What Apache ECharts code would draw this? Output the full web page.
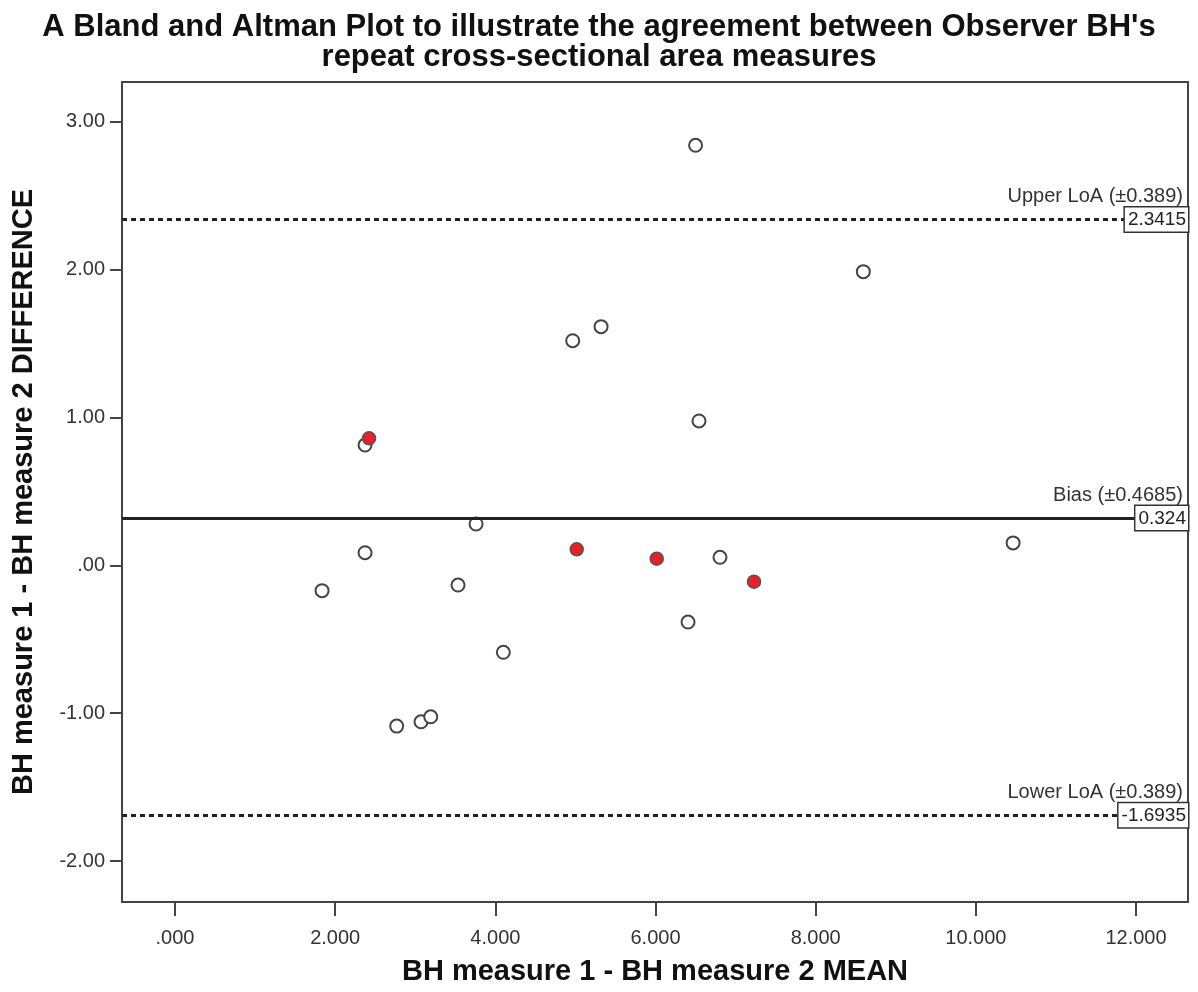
<!DOCTYPE html>
<html>
<head>
<meta charset="utf-8">
<script src="https://cdn.jsdelivr.net/npm/echarts@6/dist/echarts.min.js"></script>
<style>
  html, body { margin: 0; padding: 0; background: #fff; }
  #chart { width: 1198px; height: 992px; }
</style>
</head>
<body>
<div id="chart"></div>
<script>
// Hollow points: [mean, difference]
const hollowPoints = [
  [6.50, 2.842], [8.595, 1.987], [5.32, 1.615], [4.966, 1.520], [6.543, 0.977],
  [2.373, 0.814], [3.759, 0.280], [2.373, 0.086], [10.465, 0.152], [6.805, 0.055],
  [1.836, -0.171], [3.534, -0.133], [6.406, -0.383], [4.10, -0.588],
  [2.768, -1.087], [3.072, -1.058], [3.193, -1.024]
];
// Red highlighted points: [mean, difference]
const redPoints = [
  [2.423, 0.860], [5.016, 0.109], [6.015, 0.045], [7.230, -0.110]
];
const upperLoA = 2.3415;
const bias = 0.324;
const lowerLoA = -1.6935;
const upperCaption = 'Upper LoA (±0.389)';
const biasCaption = 'Bias (±0.4685)';
const lowerCaption = 'Lower LoA (±0.389)';
const xTicks = [0, 2, 4, 6, 8, 10, 12];
const yTicks = [-2, -1, 0, 1, 2, 3];
const xRange = [-0.662, 12.649];
const yRange = [-2.277, 3.27];

const chart = echarts.init(document.getElementById('chart'), null, { renderer: 'canvas' });

function fmt(v, d) {
  let s = Number(v).toFixed(d);
  s = s.replace(/^0\./, '.').replace(/^-0\./, '-.');
  return s;
}

const FONT = 'Liberation Sans, Arial, sans-serif';
const lineColor = '#222';
const boxLabel = {
  position: 'insideEndTop',
  distance: [0, -12],
  color: '#222',
  fontSize: 19,
  lineHeight: 21,
  fontFamily: FONT,
  backgroundColor: '#fff',
  borderColor: '#333',
  borderWidth: 1.5,
  padding: [2, 2, 1, 3]
};
const capLabel = {
  position: 'insideEndTop',
  distance: [5, 13],
  color: '#333',
  fontSize: 20,
  fontFamily: FONT
};

function refLine(val, caption, dashed) {
  const ls = dashed
    ? { color: lineColor, width: 3, type: [5, 4] }
    : { color: lineColor, width: 3, type: 'solid' };
  return [
    { yAxis: val, lineStyle: ls, label: Object.assign({}, capLabel, { formatter: caption }) },
    { yAxis: val, lineStyle: { color: 'rgba(0,0,0,0)', width: 0 }, label: Object.assign({}, boxLabel, { formatter: String(val) }) }
  ];
}

const option = {
  animation: false,
  backgroundColor: '#fff',
  title: {
    text: "A Bland and Altman Plot to illustrate the agreement between Observer BH's\nrepeat cross-sectional area measures",
    left: 'center',
    top: 7,
    textStyle: {
      fontFamily: FONT,
      fontWeight: 'bold',
      fontSize: 31,
      lineHeight: 30,
      color: '#111',
      align: 'center'
    }
  },
  grid: {
    left: 122, right: 10, top: 82, bottom: 90,
    show: true,
    borderColor: '#444',
    borderWidth: 2,
    backgroundColor: '#fff'
  },
  xAxis: {
    type: 'value',
    min: xRange[0],
    max: xRange[1],
    name: 'BH measure 1 - BH measure 2 MEAN',
    nameLocation: 'middle',
    nameGap: 55,
    nameTextStyle: { fontFamily: FONT, fontWeight: 'bold', fontSize: 29, color: '#111' },
    axisLine: { show: true, onZero: false, lineStyle: { color: '#444', width: 2 } },
    axisTick: { show: true, length: 14, customValues: xTicks, lineStyle: { color: '#444', width: 2 } },
    axisLabel: {
      customValues: xTicks,
      margin: 26,
      fontSize: 20,
      color: '#333',
      fontFamily: FONT,
      formatter: v => fmt(v, 3)
    },
    splitLine: { show: false }
  },
  yAxis: {
    type: 'value',
    min: yRange[0],
    max: yRange[1],
    name: 'BH measure 1 - BH measure 2 DIFFERENCE',
    nameLocation: 'middle',
    nameGap: 84,
    nameTextStyle: { fontFamily: FONT, fontWeight: 'bold', fontSize: 29, color: '#111' },
    axisLine: { show: true, onZero: false, lineStyle: { color: '#444', width: 2 } },
    axisTick: { show: true, length: 12, customValues: yTicks, lineStyle: { color: '#444', width: 2 } },
    axisLabel: {
      customValues: yTicks,
      margin: 17,
      fontSize: 20,
      color: '#333',
      fontFamily: FONT,
      formatter: v => fmt(v, 2)
    },
    splitLine: { show: false }
  },
  series: [
    {
      type: 'scatter',
      name: 'lines',
      data: [],
      markLine: {
        silent: true,
        symbol: 'none',
        animation: false,
        data: [].concat(
          refLine(upperLoA, upperCaption, true),
          refLine(bias, biasCaption, false),
          refLine(lowerLoA, lowerCaption, true)
        )
      }
    },
    {
      type: 'scatter',
      name: 'hollow',
      data: hollowPoints,
      symbol: 'circle',
      symbolSize: 13,
      itemStyle: { color: '#fff', borderColor: '#444', borderWidth: 2, opacity: 1 },
      z: 3
    },
    {
      type: 'scatter',
      name: 'red',
      data: redPoints,
      symbol: 'circle',
      symbolSize: 13,
      itemStyle: { color: '#e8202a', borderColor: '#555', borderWidth: 1.5, opacity: 1 },
      z: 4
    }
  ]
};

chart.setOption(option);
</script>
</body>
</html>
